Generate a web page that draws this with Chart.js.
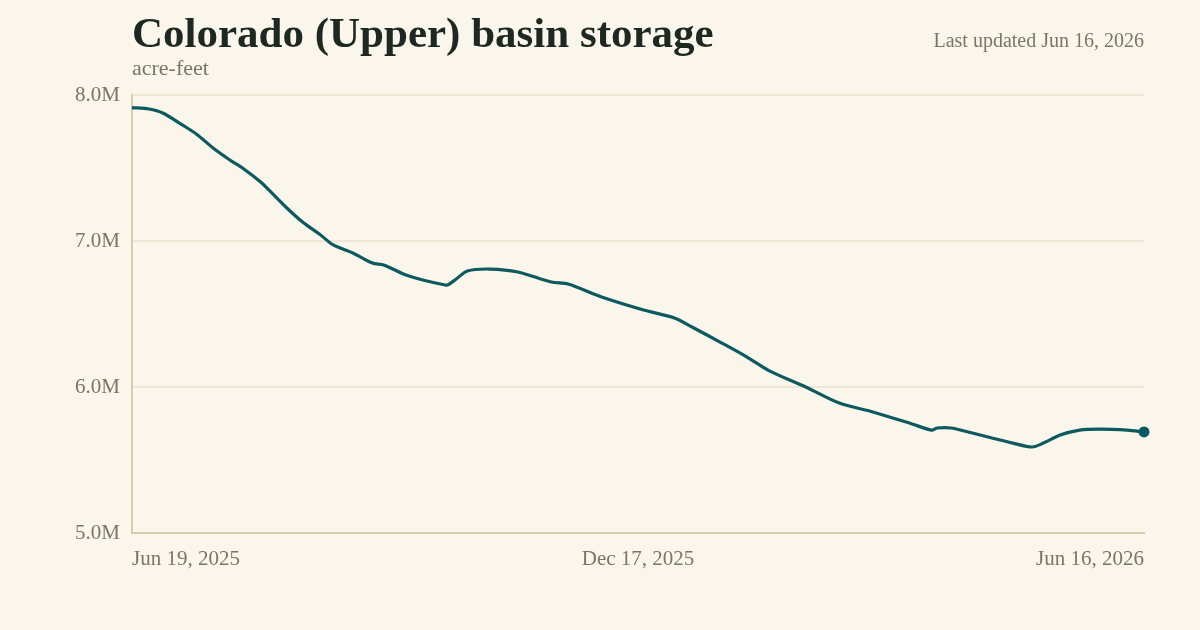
<!DOCTYPE html>
<html>
<head>
<meta charset="utf-8">
<script src="https://cdn.jsdelivr.net/npm/chart.js@4"></script>
<style>
  html, body { margin: 0; padding: 0; background: #faf6ec; }
  #wrap { position: relative; width: 1200px; height: 630px; overflow: hidden; }
  #title { position: absolute; left: 132px; top: 8px; line-height: 1; font: bold 43px "Liberation Serif", serif; color: #1e2823; white-space: nowrap; }
  #unit { position: absolute; left: 132px; top: 55px; line-height: 1; font: 22px "Liberation Serif", serif; color: #7b7664; }
  #updated { position: absolute; right: 56px; top: 29px; line-height: 1; font: 20px "Liberation Serif", serif; color: #7b7664; }
  #chart { position: absolute; left: 0; top: 0; }
</style>
</head>
<body>
<div id="wrap">
  <canvas id="chart" width="1200" height="630"></canvas>
  <div id="title">Colorado (Upper) basin storage</div>
  <div id="unit">acre-feet</div>
  <div id="updated">Last updated Jun 16, 2026</div>
</div>
<script>
// Days since Jun 19, 2025
const days = [0, 6, 11, 18, 23, 29, 35, 40, 46, 50, 55, 61, 67, 72, 79, 86, 90, 98, 104, 112, 113,
  116, 120, 128, 138, 150, 156, 168, 183, 194, 201, 211, 220, 228, 241, 253, 265, 279, 286, 288,
  293, 302, 309, 315, 322, 326, 332, 339, 346, 356, 362];
// Storage, millions of acre-feet
const storage = [7.914, 7.904, 7.877, 7.795, 7.733, 7.637, 7.555, 7.493, 7.404, 7.329, 7.233, 7.130,
  7.048, 6.973, 6.918, 6.849, 6.836, 6.767, 6.733, 6.699, 6.699, 6.740, 6.795, 6.808, 6.788, 6.719,
  6.705, 6.616, 6.527, 6.473, 6.404, 6.301, 6.205, 6.110, 6.000, 5.890, 5.829, 5.747, 5.705, 5.719,
  5.719, 5.678, 5.644, 5.616, 5.589, 5.616, 5.671, 5.705, 5.712, 5.705, 5.692];
const xTickDays = [0, 181, 362];
const xTickLabels = ['Jun 19, 2025', 'Dec 17, 2025', 'Jun 16, 2026'];
const yTicks = [5, 6, 7, 8];

const lineColor = '#0c5a60';
const gridColor = '#eee7d6';
const axisColor = '#d8ccae';
const tickColor = '#7b7664';
const serif = '"Liberation Serif", serif';

const points = days.map((d, i) => ({ x: d, y: storage[i] }));
const lastIndex = points.length - 1;

new Chart(document.getElementById('chart'), {
    type: 'line',
    data: {
        datasets: [{
            data: points,
            borderColor: lineColor,
            borderWidth: 3.2,
            tension: 0.3,
            fill: false,
            clip: false,
            pointRadius: points.map((_, i) => i === lastIndex ? 5.5 : 0),
            pointBackgroundColor: lineColor,
            pointBorderWidth: 0
        }]
    },
    options: {
        responsive: false,
        animation: false,
        layout: { padding: { top: 95, right: 56, left: 0, bottom: 0 } },
        plugins: {
            legend: { display: false },
            tooltip: { enabled: false }
        },
        scales: {
            x: {
                type: 'linear',
                min: 0,
                max: 362,
                afterBuildTicks: (scale) => {
                    scale.ticks = xTickDays.map(v => ({ value: v }));
                },
                afterFit: (scale) => { scale.height = 97; },
                ticks: {
                    align: 'inner',
                    maxRotation: 0,
                    padding: 14,
                    color: tickColor,
                    font: { family: serif, size: 21 },
                    callback: (v) => xTickLabels[xTickDays.indexOf(v)]
                },
                grid: { display: false, drawTicks: false },
                border: { display: true, color: axisColor, width: 2 }
            },
            y: {
                min: 5,
                max: 8,
                afterBuildTicks: (scale) => {
                    scale.ticks = yTicks.map(v => ({ value: v }));
                },
                afterFit: (scale) => { scale.width = 132; },
                ticks: {
                    padding: 12,
                    color: tickColor,
                    font: { family: serif, size: 21 },
                    callback: (v) => v.toFixed(1) + 'M'
                },
                grid: { color: gridColor, lineWidth: 2, drawTicks: false },
                border: { display: true, color: axisColor, width: 2 }
            }
        }
    }
});
</script>
</body>
</html>
